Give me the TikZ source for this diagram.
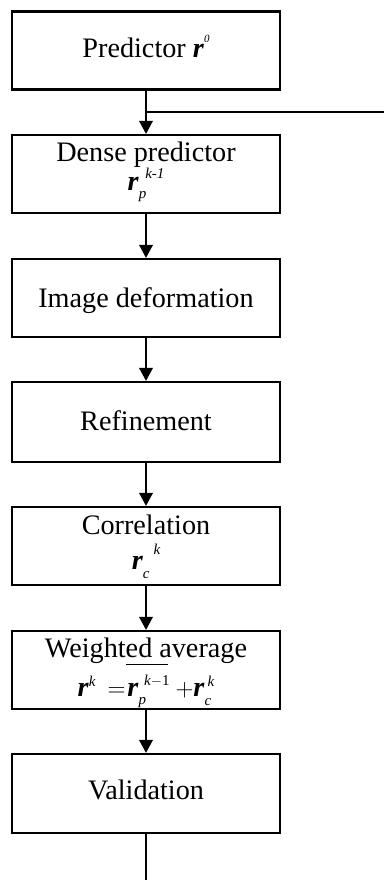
\documentclass[tikz,border=0pt]{standalone}
\usepackage{fontspec}
\setmainfont{Liberation Serif}
\usetikzlibrary{arrows.meta}
\newcommand{\vr}{\textbf{\textit{r}}}
\newcommand{\scr}{\fontsize{15}{15}\selectfont\itshape}
\newcommand{\sbx}[2]{\raisebox{#1}{\scr #2}}
\newcommand{\boxfont}{\fontsize{28.2}{28}\selectfont}
\lineskiplimit=-100pt
\begin{document}
\lineskiplimit=-100pt
\begin{tikzpicture}[x=1pt,y=1pt,
  box/.style={draw,line width=2.2pt,minimum width=268pt,minimum height=78pt,
    inner sep=0pt,align=center,font=\boxfont},
  bl/.code={\pgfmathsetmacro\mydepth{max(0,19-2*(#1))}%
    \pgfmathsetmacro\myheight{\mydepth+2*(#1)}%
    \edef\mytmp{\noexpand\tikzset{text height=\myheight pt,text depth=\mydepth pt}}\mytmp},
  arr/.style={line width=2pt,-{Triangle[width=13.5pt,length=13pt]}},
  ln/.style={line width=2pt}]
\useasboundingbox (0,0) rectangle (384,-880);
\node[box,bl=7.5] (b1) at (146,-50.5)
  {Predictor \vr\raisebox{15pt}{\fontsize{11}{11}\selectfont\itshape 0}};
\node[box,bl=16] (b2) at (146,-174)
  {Dense predictor\\[0.5pt]\vr\sbx{-8pt}{p}\kern-1pt\sbx{12pt}{k-1}};
\node[box,bl=9.5] (b3) at (146,-298) {Image deformation};
\node[box,bl=8,minimum height=80pt] (b4) at (146,-422) {Refinement};
\node[box,bl=23] (b5) at (146,-546)
  {Correlation\\[7pt]\vr\sbx{-9pt}{c}\kern4pt\sbx{15pt}{k}};
\node[box,bl=26] (b6) at (146,-670)
  {Weighted average\\[11pt]\vr\sbx{10pt}{k}\kern12pt$=$\kern2pt%
   \rlap{\kern-1pt\raisebox{31pt}{\rule{42pt}{1pt}}}%
   \vr\sbx{-8pt}{p}\kern-2pt\raisebox{11pt}{\scr k\upshape$-$1}\kern6pt$+$\kern0pt%
   \vr\rlap{\sbx{-9pt}{c}}\kern3pt\sbx{10pt}{k}};
\node[box,bl=6,minimum height=79pt] (b7) at (146,-793.5) {Validation};
\coordinate (j) at (146,-112.5);
\coordinate (jr) at (384,-112.5);
\coordinate (e) at (146,-880);
\draw[arr] (b1) -- (b2);
\draw[ln] (j) -- (jr);
\draw[arr] (b2) -- (b3);
\draw[arr] (b3) -- (b4);
\draw[arr] (b4) -- (b5);
\draw[arr] (b5) -- (b6);
\draw[arr] (b6) -- (b7);
\draw[ln] (b7) -- (e);
\end{tikzpicture}
\end{document}
